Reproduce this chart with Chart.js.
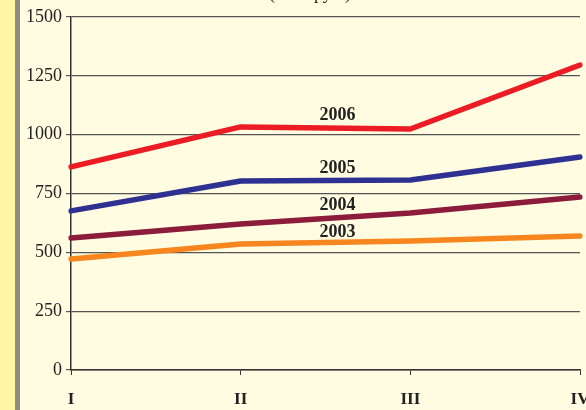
<!DOCTYPE html>
<html>
<head>
<meta charset="utf-8">
<script src="https://cdn.jsdelivr.net/npm/chart.js@4.4.1/dist/chart.umd.min.js"></script>
<style>
  html, body { margin: 0; padding: 0; }
  body { width: 586px; height: 410px; background: #fffce1; position: relative; overflow: hidden; }
  #strip { position: absolute; left: 0; top: 0; width: 15px; height: 410px; background: #fff5a4; }
  #bar { position: absolute; left: 15px; top: 0; width: 5px; height: 410px; background: #8c8c80; }
  #wrap { position: absolute; left: 0; top: 0; width: 586px; height: 410px; }
</style>
</head>
<body>
<div id="strip"></div>
<div id="bar"></div>
<div id="wrap"><canvas id="chart"></canvas></div>
<script>
// quarters
const quarters = ['I', 'II', 'III', 'IV'];

// values per year
const y2003 = [472, 535, 548, 569];
const y2004 = [561, 620, 667, 735];
const y2005 = [676, 803, 807, 905];
const y2006 = [863, 1033, 1024, 1296];

const yTicks = [0, 250, 500, 750, 1000, 1250, 1500];

// year labels written on the lines (anchor in data units)
const yearNames = ['2006', '2005', '2004', '2003'];
const yearLabelAt = [1080, 858, 701, 586];
const yearLabelQuarter = 1.57;

const titleText = '(млн. руб.)';

const serif = '"Liberation Serif", "DejaVu Serif", serif';

const lineLabels = {
    id: 'lineLabels',
    afterDatasetsDraw(chart) {
        const c = chart.ctx;
        const xs = chart.scales.x, ys = chart.scales.y;
        c.save();
        c.font = 'bold 18px ' + serif;
        c.fillStyle = '#222';
        c.textAlign = 'center';
        c.textBaseline = 'middle';
        yearNames.forEach((n, i) => {
            c.fillText(n, xs.getPixelForValue(yearLabelQuarter), ys.getPixelForValue(yearLabelAt[i]));
        });
        // title, mostly cut off at the top
        c.font = '18px ' + serif;
        c.textBaseline = 'alphabetic';
        c.fillText(titleText, 310, -1);
        c.restore();
    }
};

function ds(label, data, color) {
    return {
        label: label,
        data: data,
        borderColor: color,
        backgroundColor: color,
        borderWidth: 5.5,
        borderCapStyle: 'round',
        borderJoinStyle: 'round',
        pointRadius: 0,
        tension: 0,
        fill: false
    };
}

new Chart(document.getElementById('chart'), {
    type: 'line',
    data: {
        labels: quarters,
        datasets: [
            ds('2003', y2003, '#f7861f'),
            ds('2004', y2004, '#8b1c3b'),
            ds('2005', y2005, '#2e3192'),
            ds('2006', y2006, '#ec1c24')
        ]
    },
    options: {
        responsive: true,
        maintainAspectRatio: false,
        animation: false,
        layout: { padding: { top: 17, right: 6, left: 0, bottom: 0 } },
        plugins: {
            legend: { display: false },
            tooltip: { enabled: false }
        },
        scales: {
            x: {
                offset: false,
                grid: {
                    drawOnChartArea: false,
                    drawTicks: true,
                    tickLength: 5,
                    color: '#333'
                },
                border: { color: '#333', width: 1.5 },
                ticks: {
                    color: '#222',
                    font: { family: serif, size: 17, weight: 'bold' },
                    padding: 14,
                    maxRotation: 0,
                    autoSkip: false
                },
                afterFit(s) {
                    s.height = 40;
                    s.paddingLeft = 0;
                    s.paddingRight = 0;
                }
            },
            y: {
                min: 0,
                max: 1500,
                afterBuildTicks(s) {
                    s.ticks = yTicks.map(v => ({ value: v }));
                },
                grid: {
                    color: '#555',
                    lineWidth: 1.2,
                    tickLength: 5
                },
                border: { color: '#333', width: 1.5 },
                ticks: {
                    color: '#222',
                    font: { family: serif, size: 18 },
                    padding: 4,
                    callback: v => String(v)
                },
                afterFit(s) {
                    s.width = 71;
                    s.paddingTop = 0;
                    s.paddingBottom = 0;
                }
            }
        }
    },
    plugins: [lineLabels]
});
</script>
</body>
</html>
